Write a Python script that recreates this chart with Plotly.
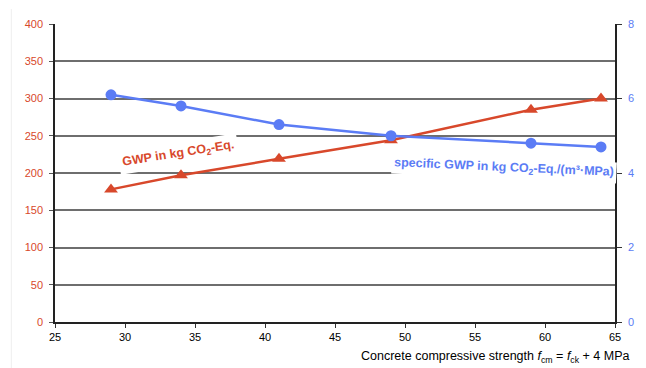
import plotly.graph_objects as go

strength = [29, 34, 41, 49, 59, 64]
gwp = [178, 197, 219, 244, 285, 300]
specific_gwp = [6.1, 5.8, 5.3, 5.0, 4.8, 4.7]

left_ticks = [0, 50, 100, 150, 200, 250, 300, 350, 400]
right_ticks = [0, 2, 4, 6, 8]
x_ticks = [25, 30, 35, 40, 45, 50, 55, 60, 65]

RED = "#d8482b"
BLUE = "#5b7cf5"
FONT = "Liberation Sans, Arial, sans-serif"

fig = go.Figure()
fig.add_trace(go.Scatter(
    x=strength, y=gwp, mode="lines+markers",
    line=dict(color=RED, width=2.5),
    marker=dict(symbol="triangle-up", size=12, color=RED),
    yaxis="y", showlegend=False, cliponaxis=False))
fig.add_trace(go.Scatter(
    x=strength, y=specific_gwp, mode="lines+markers",
    line=dict(color=BLUE, width=2.5),
    marker=dict(symbol="circle", size=11, color=BLUE),
    yaxis="y2", showlegend=False, cliponaxis=False))

fig.update_layout(
    width=646, height=368,
    margin=dict(l=55, r=16, t=24, b=46),
    paper_bgcolor="white", plot_bgcolor="white",
    font=dict(family=FONT, size=11, color="black"),
    xaxis=dict(range=[25, 65], tickvals=x_ticks, ticks="outside", ticklen=4,
               tickcolor="#333", showline=True, linecolor="#222", linewidth=1.5,
               showgrid=False, zeroline=False, tickfont=dict(size=11, color="black")),
    yaxis=dict(range=[0, 400], tickvals=left_ticks, ticks="outside", ticklen=4,
               tickcolor="#555", showline=True, linecolor="#222", linewidth=1.5,
               showgrid=True, gridcolor="#6e6e6e", gridwidth=1.5, zeroline=False,
               tickfont=dict(size=11, color=RED), ticklabelstandoff=4),
    yaxis2=dict(range=[0, 8], tickvals=right_ticks, overlaying="y", side="right",
                ticks="outside", ticklen=5, tickcolor="#333", showline=True,
                linecolor="#222", linewidth=1.5, showgrid=False, zeroline=False,
                tickfont=dict(size=11, color=BLUE), ticklabelstandoff=4),
)

fig.add_annotation(
    x=33.8, y=225, xref="x", yref="y",
    text="<b>GWP in kg CO<sub>2</sub>-Eq.</b>", showarrow=False,
    textangle=-9, font=dict(size=12.5, color=RED, family=FONT),
    bgcolor="white", borderpad=3)
fig.add_annotation(
    x=57.1, y=4.13, xref="x", yref="y2",
    text="<b>specific GWP in kg CO<sub>2</sub>-Eq./(m³·MPa)</b>", showarrow=False,
    textangle=2.5, font=dict(size=12.5, color=BLUE, family=FONT),
    bgcolor="white", borderpad=2)
fig.add_annotation(
    x=1.031, y=-0.085, xref="paper", yref="paper", xanchor="right", yanchor="top",
    text="Concrete compressive strength <i>f</i><sub>cm</sub> = <i>f</i><sub>ck</sub> + 4 MPa",
    showarrow=False, font=dict(size=12.5, color="black", family=FONT))
fig.add_shape(type="line", xref="paper", yref="paper",
              x0=-0.078, x1=-0.078, y0=-0.2, y1=1.05,
              line=dict(color="#eeeeee", width=1))

fig.write_html("out.html")
